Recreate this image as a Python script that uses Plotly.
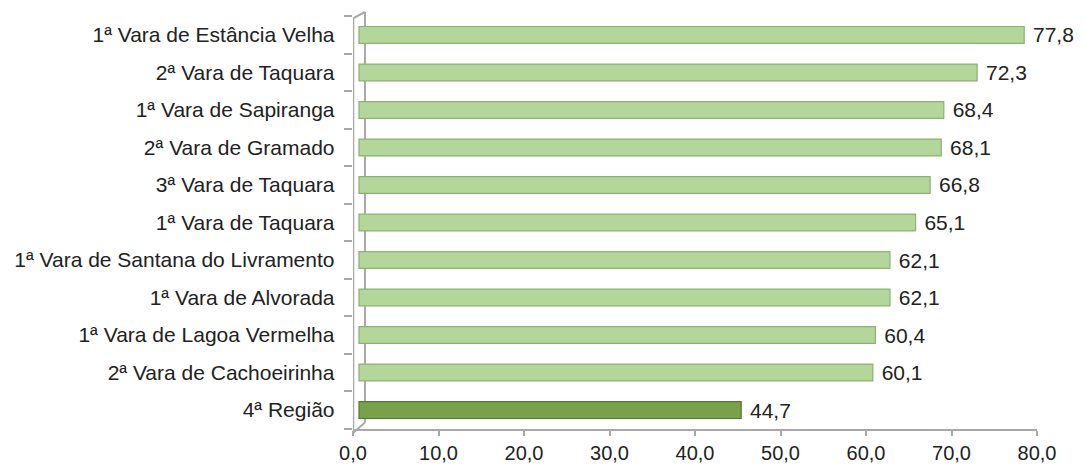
import plotly.graph_objects as go

categories = ["1ª Vara de Estância Velha", "2ª Vara de Taquara", "1ª Vara de Sapiranga",
              "2ª Vara de Gramado", "3ª Vara de Taquara", "1ª Vara de Taquara",
              "1ª Vara de Santana do Livramento", "1ª Vara de Alvorada",
              "1ª Vara de Lagoa Vermelha", "2ª Vara de Cachoeirinha", "4ª Região"]
values = [77.8, 72.3, 68.4, 68.1, 66.8, 65.1, 62.1, 62.1, 60.4, 60.1, 44.7]
labels = [" " + f"{v:.1f}".replace(".", ",") for v in values]
tick_vals = [0, 10, 20, 30, 40, 50, 60, 70, 80]
tick_text = [f"{t:.1f}".replace(".", ",") for t in tick_vals]

colors = ["#b3d69a"] * 10 + ["#77a24b"]
line_colors = ["#8fb073"] * 10 + ["#55782f"]

FONT = "Liberation Sans"
FS = 21
WALL = "#a8a8a8"

fig = go.Figure(go.Bar(
    y=categories, x=values, orientation="h", xaxis="x2",
    marker=dict(color=colors, line=dict(color=line_colors, width=1.2)),
    text=labels, textposition="outside", cliponaxis=False, constraintext="none",
    textfont=dict(size=FS, color="#222222", family=FONT),
))
fig.update_layout(
    width=1084, height=470,
    margin=dict(l=345, r=55, t=4, b=45),
    plot_bgcolor="white", paper_bgcolor="white",
    bargap=0.55, showlegend=False,
    font=dict(family=FONT, size=FS, color="#222222"),
    xaxis=dict(range=[0, 80], tickvals=tick_vals, ticktext=tick_text,
               showgrid=False, zeroline=False, showline=True,
               automargin=False, linecolor=WALL, linewidth=2,
               ticks="outside", tickcolor=WALL, ticklen=5, tickwidth=1.5,
               tickfont=dict(size=20, color="#222222")),
    xaxis2=dict(overlaying="x", range=[-0.7, 79.3], visible=False,
                side="top", automargin=False),
    shapes=[
        dict(type="line", xref="x", yref="paper", x0=0, x1=0, y0=0, y1=0.985,
             line=dict(color=WALL, width=2.5), layer="below"),
        dict(type="line", xref="x", yref="paper", x0=1.4, x1=1.4, y0=0.025, y1=1.0,
             line=dict(color=WALL, width=2), layer="below"),
        dict(type="line", xref="x", yref="paper", x0=0, x1=1.4, y0=0.985, y1=1.0,
             line=dict(color=WALL, width=2), layer="below"),
        dict(type="line", xref="x", yref="paper", x0=0, x1=1.4, y0=0, y1=0.025,
             line=dict(color=WALL, width=2), layer="below"),
    ],
)
fig.update_yaxes(categoryorder="array", categoryarray=categories[::-1],
                 showgrid=False, showline=False, zeroline=False,
                 automargin=False, domain=[0.01, 0.99],
                 ticks="outside", tickson="boundaries", tickcolor=WALL,
                 ticklen=8, tickwidth=1.5, ticksuffix="   ",
                 tickfont=dict(size=FS, color="#222222"))
fig.write_html("out.html")
